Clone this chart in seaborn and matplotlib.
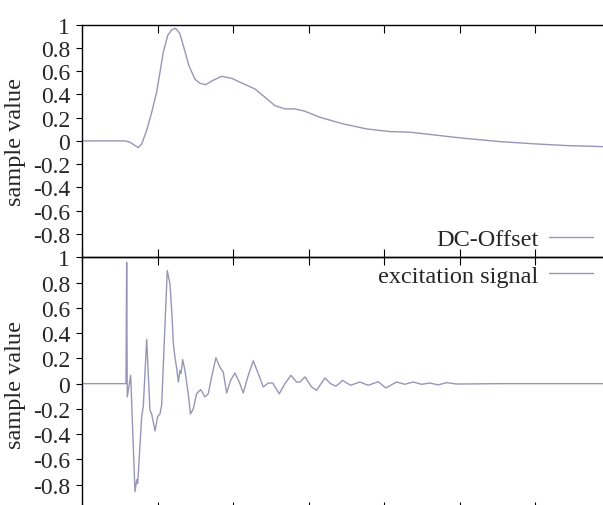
import matplotlib
matplotlib.use("Agg")
import matplotlib.pyplot as plt
import pandas as pd
import seaborn as sns

# DC-Offset curve (top panel), sample index vs value
dc_x = [0, 300, 569, 635, 701, 745, 790, 856, 922, 988, 1032, 1075, 1134,
        1187, 1239, 1296, 1353, 1415, 1495, 1561, 1636, 1724, 1848, 1980,
        2112, 2288, 2421, 2553, 2685, 2817, 2950, 3148, 3456, 3766, 4074,
        4339, 5000, 5529, 6005, 6411, 6874, 7000]
dc_y = [0, 0, 0, -0.011, -0.04, -0.057, -0.026, 0.09, 0.245, 0.42, 0.59,
        0.76, 0.905, 0.955, 0.967, 0.92, 0.79, 0.645, 0.53, 0.495, 0.483,
        0.517, 0.555, 0.538, 0.498, 0.446, 0.375, 0.303, 0.275, 0.275, 0.255,
        0.203, 0.146, 0.103, 0.08, 0.075, 0.026, -0.006, -0.026, -0.04,
        -0.049, -0.05]

# excitation signal (bottom panel)
exc_x = [0, 569, 582, 591, 599, 644, 701, 724, 737, 790, 811, 856, 899, 922,
         966, 1001, 1032, 1054, 1128, 1164, 1190, 1208, 1230, 1253, 1275,
         1296, 1310, 1332, 1362, 1393, 1410, 1435, 1472, 1516, 1570, 1627,
         1671, 1715, 1772, 1825, 1869, 1914, 1966, 2024, 2081, 2134, 2200,
         2266, 2332, 2398, 2465, 2522, 2610, 2685, 2764, 2839, 2884, 2950,
         3038, 3104, 3214, 3289, 3359, 3412, 3448, 3554, 3677, 3787, 3919,
         4021, 4163, 4272, 4382, 4493, 4603, 4713, 4824, 4956, 5529, 7000]
exc_y = [0, 0, 0, 0.96, -0.105, 0.066, -0.855, -0.76, -0.79, -0.26, -0.18,
         0.35, -0.21, -0.24, -0.375, -0.26, -0.24, -0.17, 0.895, 0.79, 0.55,
         0.32, 0.21, 0.12, 0.013, 0.105, 0.08, 0.19, 0.105, -0.026, -0.1,
         -0.24, -0.2, -0.08, -0.047, -0.105, -0.08, 0.053, 0.205, 0.13, 0.092,
         -0.074, 0.026, 0.084, 0.013, -0.074, 0.066, 0.18, 0.08, -0.026, 0.005,
         0.005, -0.08, 0, 0.066, 0.013, 0.013, 0.053, -0.026, -0.053, 0.045,
         0, -0.02, 0.005, 0.026, -0.013, 0.013, -0.013, 0.015, -0.034, 0.013,
         -0.005, 0.013, -0.005, 0.005, -0.01, 0.008, -0.003, 0, 0]

x_ticks = [0, 1000, 2000, 3000, 4000, 5000, 6000, 7000]
y_ticks = [-0.8, -0.6, -0.4, -0.2, 0, 0.2, 0.4, 0.6, 0.8, 1.0]
y_labels = ["-0.8", "-0.6", "-0.4", "-0.2", "0", "0.2", "0.4", "0.6", "0.8", "1"]

line_color = "#9896b6"

sns.set_style("ticks")
plt.rcParams['font.family'] = ['Liberation Serif', 'DejaVu Serif']
plt.rcParams['font.size'] = 17

W, H = 603, 506
fig = plt.figure(figsize=(W / 100, H / 100), dpi=100)
# axes run past the right and bottom edge, as in the cropped original
ax_top = fig.add_axes([82 / W, (H - 258.3) / H, 529 / W, (258.3 - 25.5) / H])
ax_bot = fig.add_axes([82 / W, (H - 511) / H, 529 / W, (511 - 258.3) / H])

dc = pd.DataFrame({"x": dc_x, "y": dc_y})
exc = pd.DataFrame({"x": exc_x, "y": exc_y})

sns.lineplot(data=dc, x="x", y="y", ax=ax_top, color=line_color, lw=1.0,
             label="DC-Offset")
sns.lineplot(data=exc, x="x", y="y", ax=ax_bot, color=line_color, lw=1.0,
             label="excitation signal")

legend_pos = {ax_top: (0.966, 0.078), ax_bot: (0.966, 0.926)}

for ax in (ax_top, ax_bot):
    ax.set_xlim(0, 7000)
    ax.set_ylim(-1, 1)
    ax.set_xticks(x_ticks)
    ax.set_xticklabels([])
    ax.set_yticks(y_ticks)
    ax.set_yticklabels(y_labels)
    ax.set_xlabel("")
    ax.set_ylabel("sample value", fontsize=17.5)
    ax.yaxis.set_label_coords(-0.106, 0.5)
    for side in ("left", "top", "bottom"):
        ax.spines[side].set_visible(True)
        ax.spines[side].set_linewidth(1.0)
        ax.spines[side].set_color("black")
    ax.spines["right"].set_visible(False)
    ax.tick_params(axis="x", which="both", direction="in", top=True,
                   bottom=True, length=6, width=0.8, color="black")
    ax.tick_params(axis="y", which="both", direction="out", left=True,
                   right=False, length=4.5, width=0.8, pad=4, labelsize=17,
                   color="black")
    ax.patch.set_alpha(0)
    ax.legend(loc="center right", bbox_to_anchor=legend_pos[ax],
              frameon=False, markerfirst=False, fontsize=17.5,
              handlelength=1.8, handletextpad=0.45, borderpad=0,
              borderaxespad=0)

fig.savefig("out.png", dpi=100)
plt.close(fig)
